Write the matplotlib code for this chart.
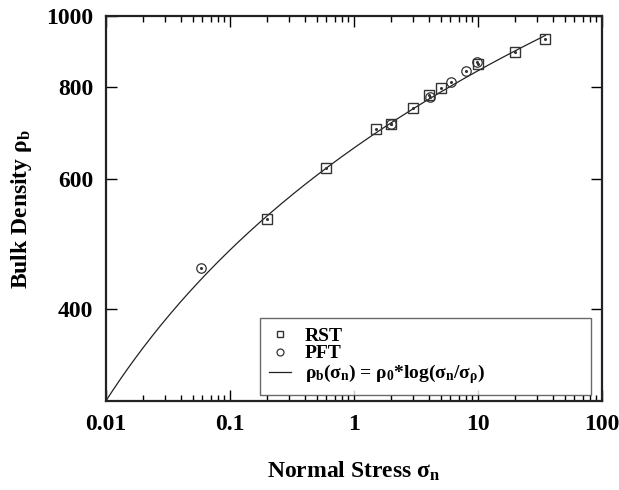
import matplotlib
matplotlib.use('Agg')
import matplotlib.pyplot as plt
from matplotlib.ticker import FixedLocator, FixedFormatter, NullLocator
import numpy as np

plt.rcParams['font.family'] = ['Liberation Serif', 'DejaVu Serif']
plt.rcParams['font.weight'] = 'bold'
plt.rcParams['mathtext.fontset'] = 'custom'
plt.rcParams['mathtext.rm'] = 'Liberation Serif:bold'
plt.rcParams['mathtext.bf'] = 'Liberation Serif:bold'
plt.rcParams['mathtext.it'] = 'Liberation Serif:bold'

# RST data (normal stress, bulk density)
rst_stress = [0.2, 0.6, 1.5, 2.0, 3.0, 4.0, 5.0, 10.0, 20.0, 35.0]
rst_density = [530, 622, 703, 713, 750, 781, 798, 861, 894, 930]
# PFT data
pft_stress = [0.058, 2.0, 4.1, 6.1, 8.0, 9.9]
pft_density = [455, 713, 777, 813, 843, 867]

# fit parameters: rho_b = rho0 * log10(sigma / sigma_rho)
rho0 = 181.0
sigma_rho = 2.2e-4
fit_start, fit_end = 0.01, 35.0

xticks = [0.01, 0.1, 1, 10, 100]
xtick_labels = ['0.01', '0.1', '1', '10', '100']
yticks = [400, 600, 800, 1000]
ytick_labels = ['400', '600', '800', '1000']

fig = plt.figure(figsize=(6.19, 4.90), dpi=100)
ax = fig.add_axes([0.171, 0.1816, 0.8015, 0.7854])

sig = np.logspace(np.log10(fit_start), np.log10(fit_end), 300)
ax.plot(sig, rho0 * np.log10(sig / sigma_rho), color='#222222', lw=0.9,
        label=r'$\rho_\mathbf{b}(\sigma_\mathbf{n})$ = $\rho_\mathbf{0}$*log($\sigma_\mathbf{n}$/$\sigma_\rho$)')

ax.plot(rst_stress, rst_density, ls='none', marker='s', ms=7.5, mfc='none',
        mec='#333333', mew=1.0, label='RST')
ax.plot(pft_stress, pft_density, ls='none', marker='o', ms=6.8, mfc='none',
        mec='#333333', mew=0.9, label='PFT')
ax.plot(rst_stress + pft_stress, rst_density + pft_density, ls='none',
        marker='o', ms=1.2, color='#333333')

ax.set_xscale('log')
ax.set_yscale('log')
ax.set_xlim(0.01, 100)
ax.set_ylim(300, 1000)

ax.xaxis.set_major_locator(FixedLocator(xticks))
ax.xaxis.set_major_formatter(FixedFormatter(xtick_labels))
ax.yaxis.set_major_locator(FixedLocator(yticks))
ax.yaxis.set_major_formatter(FixedFormatter(ytick_labels))
ax.yaxis.set_minor_locator(NullLocator())

ax.tick_params(which='both', direction='in', top=True, right=True,
               labelsize=17, pad=9)
ax.tick_params(which='major', length=8, width=1.0)
ax.tick_params(which='minor', length=4.5, width=1.0)
for s in ax.spines.values():
    s.set_linewidth(1.6)
    s.set_color('#222222')

ax.set_xlabel(r'Normal Stress σ$_\mathbf{n}$', fontsize=17, fontweight='bold',
              labelpad=18)
ax.set_ylabel(r'Bulk Density ρ$_\mathbf{b}$', fontsize=17, fontweight='bold',
              labelpad=9)

h, l = ax.get_legend_handles_labels()
leg = ax.legend([h[1], h[2], h[0]], [l[1], l[2], l[0]], loc='lower left',
                bbox_to_anchor=(0.3105, 0.0156, 0.667, 0.187), mode='expand',
                borderaxespad=0, fontsize=14, frameon=True, fancybox=False,
                handlelength=1.15, labelspacing=0.0, borderpad=0.45,
                handletextpad=0.7)
leg.get_frame().set_edgecolor('#444444')
leg.get_frame().set_linewidth(1.0)
for hh in leg.legend_handles[:2]:
    hh.set_markersize(5)

fig.savefig('out.png', dpi=100)
